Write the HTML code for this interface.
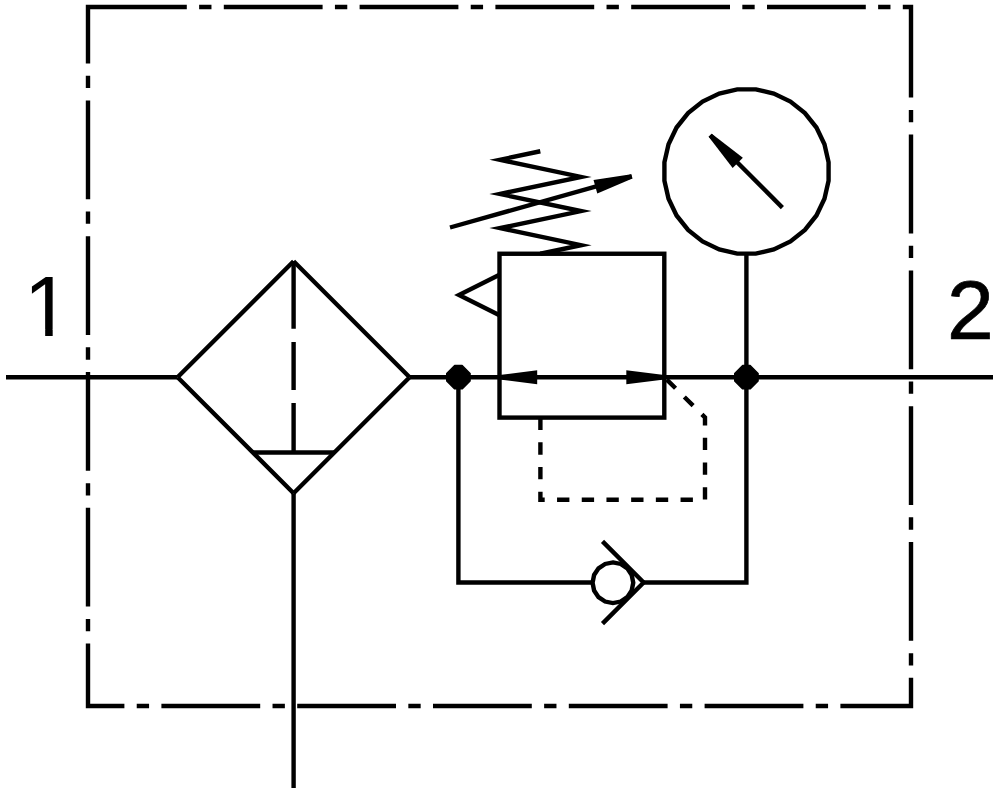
<!DOCTYPE html>
<html lang="en">
<head>
<meta charset="utf-8">
<title>Pneumatic symbol: filter regulator with pressure gauge</title>
<style>
html,body{margin:0;padding:0;background:#fff;}
body{width:1000px;height:792px;overflow:hidden;}
svg{display:block;}
.s{fill:none;stroke:#000;stroke-width:4.4;stroke-miterlimit:10;stroke-linecap:butt;stroke-linejoin:miter;}
.f{fill:#000;stroke:none;}
.d{fill:#000;stroke:#000;stroke-width:1.5;stroke-linejoin:round;}
.t{font-family:"Liberation Sans",Arial,Helvetica,sans-serif;font-size:85px;fill:#000;}
.t2{font-size:84.2px;stroke:#000;stroke-width:0.7;stroke-linejoin:miter;}
</style>
</head>
<body>
<svg width="1000" height="792" viewBox="0 0 1000 792">
<rect x="0" y="0" width="1000" height="792" fill="#fff"/>
<path class="s" stroke-dasharray="98.8 12.33 12.34 12.33" d="M88,7 H911 V706 H88 Z"/>
<path class="s" d="M6,377.2 H177.6 M409.6,377.2 H993"/>
<path class="s" d="M177.6,377.2 L293.6,261.2 M293.6,261.2 L409.6,377.2 M409.6,377.2 L293.6,493.2 M293.6,493.2 L177.6,377.2"/>
<path class="s" d="M252.6,452.5 H334.6"/>
<path class="s" d="M293.6,261.2 V328.75 M293.6,342 V390 M293.6,403 V452.5"/>
<path class="s" d="M293.6,493.2 V788"/>
<rect class="s" x="499.5" y="253.75" width="164.8" height="163.85"/>
<polygon class="f" points="499.50,375.00 537.20,370.20 537.20,384.20 499.50,379.40"/>
<polygon class="f" points="664.30,379.40 626.30,384.20 626.30,370.20 664.30,375.00"/>
<polyline class="s" points="540.30,151.25 500.00,159.79 581.00,176.88 500.00,193.96 581.00,211.04 500.00,228.12 581.00,245.21 540.30,253.75"/>
<path class="s" d="M450,227.5 L631.8,176.45"/>
<polygon class="f" points="632.39,178.57 597.30,193.41 593.52,179.93 631.21,174.33"/>
<polyline class="s" points="499.5,274.7 459,295 499.5,315.3"/>
<path class="s" stroke-dasharray="12.35 12.35" d="M540.4,417.6 V499.75 H705 V417.4 L664.3,377.2"/>
<polygon class="s" points="755.75,89.42 773.78,93.54 790.45,101.56 804.91,113.09 816.44,127.55 824.46,144.22 828.58,162.25 828.58,180.75 824.46,198.78 816.44,215.45 804.91,229.91 790.45,241.44 773.78,249.46 755.75,253.58 737.25,253.58 719.22,249.46 702.55,241.44 688.09,229.91 676.56,215.45 668.54,198.78 664.42,180.75 664.42,162.25 668.54,144.22 676.56,127.55 688.09,113.09 702.55,101.56 719.22,93.54 737.25,89.42"/>
<path class="s" d="M746.4,253.9 V377.2"/>
<path class="s" d="M782.4,207.6 L710.2,135.3"/>
<polygon class="f" points="711.76,133.75 742.85,157.81 732.66,167.98 708.64,136.85"/>
<polygon class="d" points="462.10,365.55 470.05,373.50 470.05,380.90 462.10,388.85 454.70,388.85 446.75,380.90 446.75,373.50 454.70,365.55"/>
<polygon class="d" points="750.10,365.55 758.05,373.50 758.05,380.90 750.10,388.85 742.70,388.85 734.75,380.90 734.75,373.50 742.70,365.55"/>
<path class="s" d="M458.4,377.2 V582.5 H592.7 M643.6,582.5 H746.4 V377.2"/>
<polygon class="s" points="612.90,562.40 620.69,563.95 627.29,568.36 631.70,574.96 633.25,582.75 631.70,590.54 627.29,597.14 620.69,601.55 612.90,603.10 605.11,601.55 598.51,597.14 594.10,590.54 592.55,582.75 594.10,574.96 598.51,568.36 605.11,563.95"/>
<polyline class="s" points="602.5,541.4 643.6,582.5 602.5,623.6"/>
<clipPath id="c1"><rect x="10" y="260" width="70" height="69"/><rect x="45.17" y="328" width="7.52" height="12"/></clipPath>
<text x="23.8" y="336" class="t" clip-path="url(#c1)">1</text>
<text x="946.9" y="338.5" class="t t2">2</text>
</svg>
</body>
</html>
